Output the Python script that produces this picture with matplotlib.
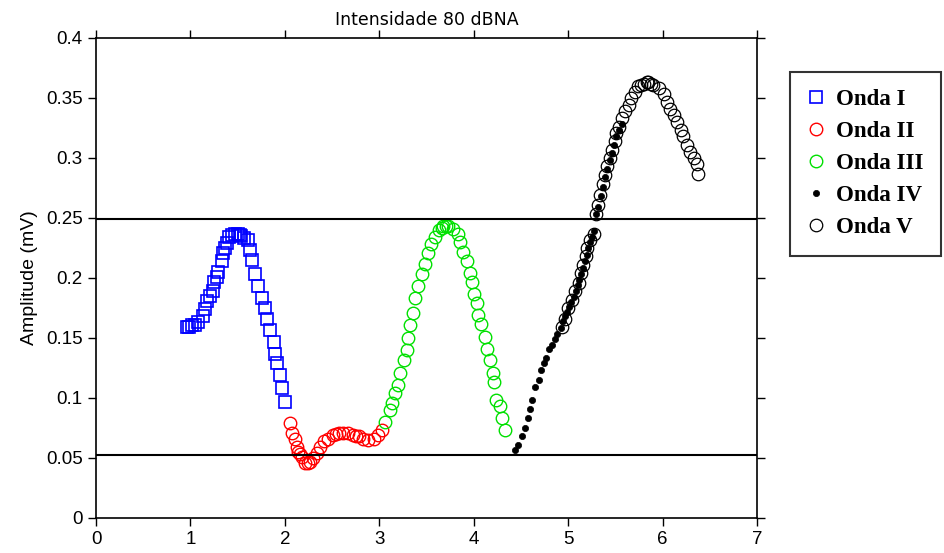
import matplotlib
matplotlib.use("Agg")
import matplotlib.pyplot as plt
from matplotlib.ticker import FormatStrFormatter

plt.rcParams["font.family"] = ["Liberation Sans", "DejaVu Sans"]

# Onda I (blue squares)
x1 = [0.96, 0.99, 1.02, 1.05, 1.08, 1.13, 1.15, 1.18, 1.21, 1.235, 1.25, 1.28, 1.295,
      1.33, 1.35, 1.37, 1.39, 1.41, 1.44, 1.47, 1.50, 1.52, 1.54, 1.57, 1.61, 1.63,
      1.65, 1.68, 1.72, 1.755, 1.79, 1.81, 1.84, 1.88, 1.90, 1.92, 1.95, 1.97, 2.00]
y1 = [0.159, 0.159, 0.161, 0.161, 0.163, 0.168, 0.174, 0.181, 0.185, 0.189, 0.197, 0.201, 0.205,
      0.214, 0.221, 0.225, 0.229, 0.234, 0.236, 0.237, 0.237, 0.236, 0.235, 0.233, 0.232, 0.223,
      0.215, 0.203, 0.193, 0.183, 0.175, 0.166, 0.157, 0.147, 0.137, 0.129, 0.119, 0.108, 0.097]

# Onda II (red circles)
x2 = [2.055, 2.08, 2.11, 2.125, 2.14, 2.16, 2.18, 2.21, 2.24, 2.27, 2.30, 2.34, 2.37, 2.41,
      2.46, 2.51, 2.54, 2.57, 2.62, 2.67, 2.72, 2.75, 2.78, 2.83, 2.88, 2.94, 2.99, 3.03]
y2 = [0.079, 0.071, 0.066, 0.059, 0.055, 0.053, 0.051, 0.046, 0.046, 0.047, 0.050, 0.054, 0.059, 0.064,
      0.066, 0.069, 0.070, 0.071, 0.071, 0.071, 0.069, 0.068, 0.068, 0.066, 0.065, 0.066, 0.069, 0.073]

# Onda III (green circles)
x3 = [3.06, 3.11, 3.13, 3.17, 3.20, 3.22, 3.26, 3.29, 3.30, 3.32, 3.36, 3.38, 3.41, 3.45,
      3.485, 3.52, 3.55, 3.59, 3.63, 3.66, 3.68, 3.71, 3.73, 3.78, 3.83, 3.86, 3.89, 3.93,
      3.96, 3.98, 4.00, 4.03, 4.05, 4.08, 4.12, 4.14, 4.17, 4.20, 4.22, 4.24, 4.28, 4.30, 4.33]
y3 = [0.080, 0.090, 0.096, 0.104, 0.111, 0.121, 0.132, 0.140, 0.150, 0.161, 0.171, 0.183, 0.193, 0.203,
      0.212, 0.221, 0.228, 0.234, 0.240, 0.242, 0.243, 0.243, 0.243, 0.241, 0.237, 0.230, 0.222, 0.214,
      0.204, 0.197, 0.187, 0.179, 0.169, 0.162, 0.151, 0.141, 0.132, 0.121, 0.113, 0.098, 0.093, 0.083, 0.073]

# Onda IV (black dots)
x4 = [4.44, 4.47, 4.51, 4.54, 4.58, 4.60, 4.62, 4.65, 4.69, 4.71, 4.74, 4.77, 4.80, 4.83,
      4.86, 4.88, 4.92, 4.95, 4.97, 4.985, 5.01, 5.03, 5.06, 5.08, 5.10, 5.12, 5.14, 5.16,
      5.18, 5.20, 5.21, 5.23, 5.25, 5.27, 5.30, 5.32, 5.35, 5.37, 5.39, 5.41, 5.44, 5.46,
      5.49, 5.51, 5.54, 5.57]
y4 = [0.057, 0.061, 0.068, 0.075, 0.083, 0.091, 0.098, 0.109, 0.115, 0.123, 0.129, 0.133, 0.141, 0.144,
      0.149, 0.153, 0.158, 0.164, 0.168, 0.172, 0.176, 0.180, 0.184, 0.189, 0.194, 0.198, 0.203, 0.208,
      0.214, 0.219, 0.225, 0.230, 0.234, 0.239, 0.253, 0.259, 0.268, 0.276, 0.284, 0.291, 0.298, 0.304,
      0.311, 0.318, 0.323, 0.328]

# Onda V (black open circles)
x5 = [4.93, 4.97, 5.00, 5.04, 5.07, 5.11, 5.14, 5.16, 5.19, 5.20, 5.23, 5.27, 5.30, 5.32,
      5.34, 5.37, 5.39, 5.41, 5.44, 5.46, 5.50, 5.51, 5.54, 5.57, 5.60, 5.64, 5.67, 5.71,
      5.74, 5.77, 5.80, 5.83, 5.85, 5.88, 5.90, 5.96, 6.01, 6.05, 6.08, 6.12, 6.15, 6.19,
      6.22, 6.26, 6.29, 6.33, 6.36, 6.38]
y5 = [0.159, 0.166, 0.175, 0.182, 0.189, 0.196, 0.204, 0.211, 0.218, 0.225, 0.232, 0.237, 0.253, 0.261,
      0.269, 0.278, 0.286, 0.293, 0.300, 0.307, 0.314, 0.321, 0.326, 0.333, 0.339, 0.344, 0.350, 0.355,
      0.360, 0.361, 0.362, 0.363, 0.363, 0.362, 0.361, 0.358, 0.353, 0.347, 0.341, 0.336, 0.330, 0.323,
      0.318, 0.311, 0.305, 0.300, 0.295, 0.287]

# reference lines
hlines = [0.249, 0.0525]

fig = plt.figure(figsize=(9.44, 5.53), dpi=100)
ax = fig.add_axes([0.1017, 0.0633, 0.7002, 0.868])

ms = 9
ax.plot(x1, y1, ls="none", marker="s", ms=ms, mfc="none", mec="blue", mew=1.2, label="Onda I")
ax.plot(x2, y2, ls="none", marker="o", ms=ms, mfc="none", mec="red", mew=1.0, label="Onda II")
ax.plot(x3, y3, ls="none", marker="o", ms=ms, mfc="none", mec="#00e000", mew=1.0, label="Onda III")
ax.plot(x4, y4, ls="none", marker="o", ms=4.5, mfc="black", mec="black", mew=0.5, label="Onda IV")
ax.plot(x5, y5, ls="none", marker="o", ms=ms, mfc="none", mec="black", mew=0.9, label="Onda V")

for h in hlines:
    ax.axhline(h, color="black", lw=1.5)

ax.set_xlim(0, 7)
ax.set_ylim(0, 0.4)
ax.set_xticks(range(8))
ax.set_yticks([0, 0.05, 0.1, 0.15, 0.2, 0.25, 0.3, 0.35, 0.4])
ax.yaxis.set_major_formatter(FormatStrFormatter("%g"))
ax.tick_params(direction="out", length=6, width=1, labelsize=13.5,
               top=True, right=True)
for s in ax.spines.values():
    s.set_linewidth(1.2)

ax.set_ylabel("Amplitude (mV)", fontsize=14, labelpad=6)
ax.set_title("Intensidade 80 dBNA", fontsize=12.5, pad=9, family="DejaVu Sans")

leg = fig.legend(loc="upper left", bbox_to_anchor=(790 / 944, 1 - 72 / 553),
                 prop={"family": "Liberation Serif", "weight": "bold", "size": 16.5},
                 frameon=True, fancybox=False, edgecolor="black", handletextpad=0.45,
                 labelspacing=0.48, borderpad=0.75, handlelength=0.8, borderaxespad=0)
leg.get_frame().set_linewidth(1.5)

fig.savefig("out.png", dpi=100)
